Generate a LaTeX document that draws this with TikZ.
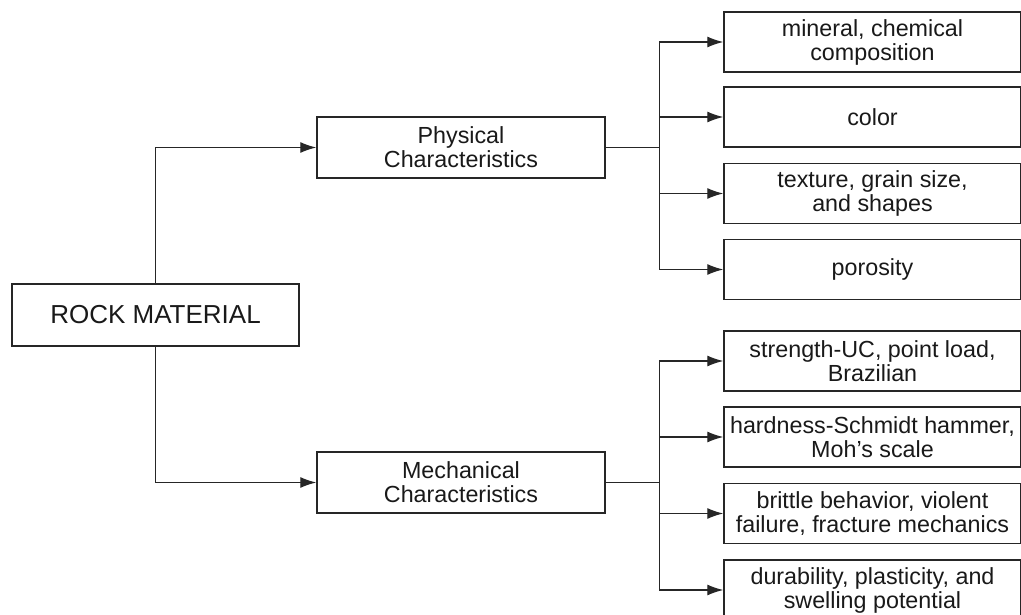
\documentclass[tikz,border=0pt]{standalone}
\usepackage{fontspec}
\setmainfont{Liberation Sans}
\usetikzlibrary{arrows.meta}
\begin{document}
\begin{tikzpicture}[x=1pt,y=-1pt,
  box/.style={draw=black!85,line width=1.5pt,rectangle,inner sep=0pt,align=center,
    font=\fontsize{23.3}{24}\selectfont,text=black!90},
  leaf/.style={box,minimum width=297pt,minimum height=60pt},
  mid/.style={box,minimum width=288pt,minimum height=61pt},
  conn/.style={draw=black!85,line width=1.2pt},
  arr/.style={conn,-{Latex[length=16pt,width=11pt]}}]
\clip (0,0) rectangle (1021,615);
\fill[white] (0,0) rectangle (1021,615);
\node[box,minimum width=287pt,minimum height=62pt,font=\fontsize{26}{28}\selectfont] (rock) at (155.5,315) {ROCK MATERIAL};
\node[mid] (phys) at (461,147.5) {Physical\\Characteristics};
\node[mid] (mech) at (461,482.5) {Mechanical\\Characteristics};
\node[leaf] (p1) at (872.5,42) {mineral, chemical\\composition};
\node[leaf] (p2) at (872.5,117) {color};
\node[leaf] (p3) at (872.5,193.5) {texture, grain size,\\and shapes};
\node[leaf] (p4) at (872.5,269.5) {porosity};
\node[leaf] (m1) at (872.5,361) {strength-UC, point load,\\Brazilian};
\node[leaf] (m2) at (872.5,437) {hardness-Schmidt hammer,\\Moh's scale};
\node[leaf] (m3) at (872.5,513.5) {brittle behavior, violent\\failure, fracture mechanics};
\node[leaf] (m4) at (872.5,590) {durability, plasticity, and\\swelling potential};
\draw[arr] (rock.north) |- (phys.west);
\draw[arr] (rock.south) |- (mech.west);
\draw[conn] (phys.east) -- ++(54,0) coordinate (pb);
\draw[conn] (mech.east) -- ++(54,0) coordinate (mb);
\foreach \n in {p1,p2,p3,p4} \draw[arr] (pb) |- (\n.west);
\foreach \n in {m1,m2,m3,m4} \draw[arr] (mb) |- (\n.west);
\end{tikzpicture}
\end{document}
